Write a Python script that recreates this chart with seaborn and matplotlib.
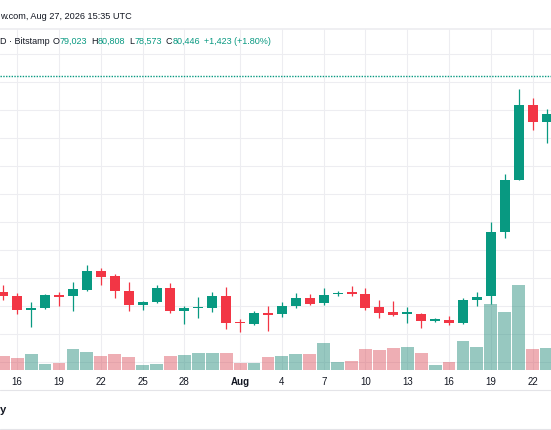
import numpy as np
import pandas as pd
import matplotlib
matplotlib.use('Agg')
import matplotlib.pyplot as plt
import seaborn as sns
from matplotlib.lines import Line2D

# daily BTC/USD candles, Jul 15 - Aug 23 2026
dates = pd.date_range('2026-07-15', '2026-08-23', freq='D')

opens = [64980, 64690, 63740, 63840, 64790, 64690, 65160, 66480, 66120, 65050,
         64070, 64260, 65290, 63660, 63840, 63840, 64690,
         62880, 62710, 63480, 63430, 64020, 64570, 64210, 64860, 64980, 64860,
         63910, 63590, 63450, 63430, 62930, 63000, 62790, 64450, 64740, 69260,
         73020, 78360, 77120]
highs = [65500, 64930, 64310, 64860, 64980, 65740, 66930, 66690, 66290, 65740,
         64380, 65500, 65640, 64020, 64620, 65020, 65340,
         63070, 63620, 63980, 64310, 64930, 64860, 65260, 65050, 65410, 65260,
         64430, 64380, 63910, 63500, 63120, 63260, 64550, 64980, 70020, 73430,
         79500, 78840, 78070]
lows = [64450, 63430, 62480, 63790, 63980, 63660, 65090, 65500, 64570, 63660,
        63740, 64190, 63500, 62710, 63120, 63550, 62360,
        62160, 62640, 62240, 63190, 63840, 64070, 64070, 64740, 64690, 63710,
        63140, 63260, 62790, 62430, 62840, 62640, 62710, 63980, 64140, 68860,
        72980, 76590, 75640]
closes = [64740, 63740, 63860, 64790, 64640, 65210, 66480, 66090, 65050, 64070,
          64310, 65290, 63620, 63840, 63910, 64690, 62790,
          62790, 63500, 63380, 64020, 64570, 64140, 64810, 64930, 64880, 63840,
          63500, 63380, 63550, 62950, 63050, 62790, 64450, 64660, 69260, 73020,
          78360, 77120, 77710]
volumes = [715, 585, 815, 285, 365, 1050, 915, 700, 800, 650,
           265, 315, 715, 735, 850, 850, 865,
           335, 365, 650, 715, 785, 800, 1350, 385, 465, 1050,
           985, 1115, 1165, 865, 250, 400, 1450, 1165, 3300, 2885,
           4250, 1050, 1085]

last_close = 80446
tick_dates = ['2026-07-16', '2026-07-19', '2026-07-22', '2026-07-25', '2026-07-28',
              '2026-08-01', '2026-08-04', '2026-08-07', '2026-08-10', '2026-08-13',
              '2026-08-16', '2026-08-19', '2026-08-22']

TEAL = '#089981'
RED = '#F23645'
DARK = '#131722'
GRID = '#ededf1'

sns.set_theme(style='white')
plt.rcParams['font.family'] = ['Liberation Sans', 'DejaVu Sans']

o = np.array(opens)
c = np.array(closes)
day = np.array((dates - dates[0]).days)
up = c >= o
colors = np.where(up, TEAL, RED)

fig = plt.figure(figsize=(5.51, 4.31), dpi=100)
ax = fig.add_axes([0, 60 / 431, 1, 341 / 431])
vax = ax.twinx()

# volume overlay at the bottom of the pane
vol_df = pd.DataFrame({'day': day, 'volume': volumes,
                       'dir': np.where(up, 'up', 'down')})
sns.barplot(data=vol_df, x='day', y='volume', hue='dir',
            palette={'up': TEAL, 'down': RED}, native_scale=True, dodge=False,
            width=0.92, alpha=0.45, linewidth=0, errorbar=None, legend=False,
            ax=vax)
vax.set_ylim(0, 17050)
vax.set_yticks([])
vax.set_ylabel('')
vax.set_xlabel('')

# candles
ax.vlines(day, lows, highs, colors=colors, linewidth=0.9)
ax.bar(day, np.maximum(np.abs(c - o), 60), bottom=np.minimum(o, c),
       width=0.72, color=colors, linewidth=0)
ax.axhline(last_close, color=TEAL, linewidth=1, linestyle=(0, (1, 1)))

ax.set_ylim(59428, 83786)
ax.set_yticks(range(60000, 84000, 2000))
ax.tick_params(axis='y', left=False, right=False, labelleft=False)
ax.set_xlim(-0.237, 39.32)

tick_pos = [(pd.Timestamp(t) - dates[0]).days for t in tick_dates]
tick_lab = ['Aug' if pd.Timestamp(t).day == 1 else str(pd.Timestamp(t).day)
            for t in tick_dates]
ax.set_xticks(tick_pos)
ax.set_xticklabels(tick_lab, fontsize=7, color=DARK)
for lab in ax.get_xticklabels():
    if lab.get_text() == 'Aug':
        lab.set_fontweight('bold')
ax.tick_params(axis='x', length=0, pad=4)
ax.grid(True, color=GRID, linewidth=0.8)
ax.set_axisbelow(True)

for a in (ax, vax):
    for s in a.spines.values():
        s.set_visible(False)
ax.spines['top'].set_visible(True)
ax.spines['top'].set_color(GRID)

# time axis separator lines
for yy in (391, 430):
    fig.add_artist(Line2D([0, 1], [(431 - yy) / 431] * 2, transform=fig.transFigure,
                          color='#e4e4e8', linewidth=0.8))

# header texts
fig.text(0.0, (431 - 16.7) / 431, 'w.com, Aug 27, 2026 15:35 UTC',
         fontsize=6.6, color=DARK, va='center', ha='left')

# legend line: symbol, then O/H/L/C values in teal
pieces = [('O', DARK, 2), ('79,023', TEAL, 0),
          ('H', DARK, 3), ('80,808', TEAL, 0), ('L', DARK, 3), ('78,573', TEAL, 0),
          ('C', DARK, 3), ('80,446', TEAL, 0), ('+1,423 (+1.80%)', TEAL, 3)]
prev = fig.text(0.0, (431 - 41.7) / 431, 'D · Bitstamp', fontsize=6.5,
                color=DARK, va='center', ha='left')
for txt, col, gap in pieces:
    prev = fig.add_artist(plt.Annotation(txt, xy=(1, 0), xycoords=prev,
                                         xytext=(gap, 0), textcoords='offset points',
                                         fontsize=6.5, color=col, va='bottom',
                                         ha='left', annotation_clip=False))

fig.text(0.0, (431 - 410) / 431, 'y', fontsize=8, fontweight='bold',
         color=DARK, va='center', ha='left')

fig.savefig('out.png', dpi=100)
